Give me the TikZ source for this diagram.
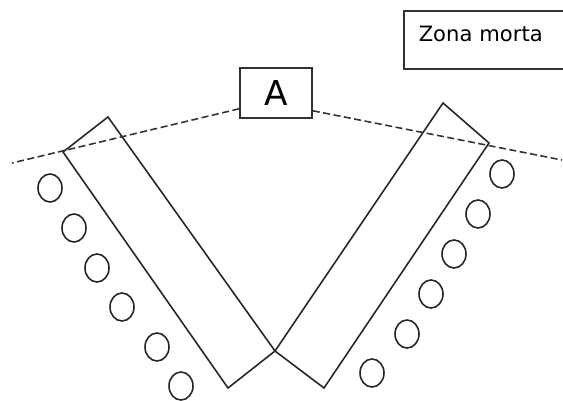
\documentclass[tikz,border=0pt]{standalone}
\usepackage{fontspec}
\setmainfont{DejaVu Sans}
\usetikzlibrary{calc,positioning}

\begin{document}
\begin{tikzpicture}[x=0.02cm,y=-0.02cm]
    \tikzstyle{slab} = [draw, line width=0.9pt, black!85]
    \tikzstyle{box} = [draw, line width=0.9pt, black!80, text=black, rectangle]
    \tikzstyle{sight} = [line width=0.9pt, black!80, dash pattern=on 4pt off 2pt]
    \tikzstyle{roller} = [line width=0.9pt, black!85]

    \clip (0,0) rectangle (563,401);

    % Labels .........................
    \node[box, minimum width=1.44cm, minimum height=1cm,
          font=\fontsize{19.5}{22}\selectfont] (A) at (276,93) {A};
    \node[box, anchor=north west, inner xsep=0.3cm, inner ysep=0.3cm,
          text width=2.84cm, text height=9pt, text depth=6.9pt, align=left,
          font=\fontsize{12}{14}\selectfont] (zona) at (403,10) {Zona morta};

    % Slabs .........................
    \coordinate (v)  at (275,351);
    \coordinate (l1) at (63,152);
    \coordinate (l2) at (108,117);
    \coordinate (l3) at (228,388);
    \coordinate (r1) at (443,103);
    \coordinate (r2) at (489,143);
    \coordinate (r3) at (324,388);
    \draw[slab] (l1) -- (l2) -- (v) -- (l3) -- cycle;
    \draw[slab] (r1) -- (r2) -- (r3) -- (v) -- cycle;

    % Sight lines .........................
    \coordinate (lend) at (12,163);
    \coordinate (rend) at (562,160);
    \draw[sight] ($(A.south west)+(0,-10)$) -- (lend);
    \draw[sight] ($(A.south east)+(0,-8)$) -- (rend);

    % Rollers .........................
    \foreach \p in {(50,188),(74,228),(97,268),(122,307),(157,347),(181,386),
                    (502,174),(478,214),(454,254),(431,294),(407,334),(372,373)}
        \draw[roller] \p ellipse [x radius=12, y radius=14];

\end{tikzpicture}
\end{document}
